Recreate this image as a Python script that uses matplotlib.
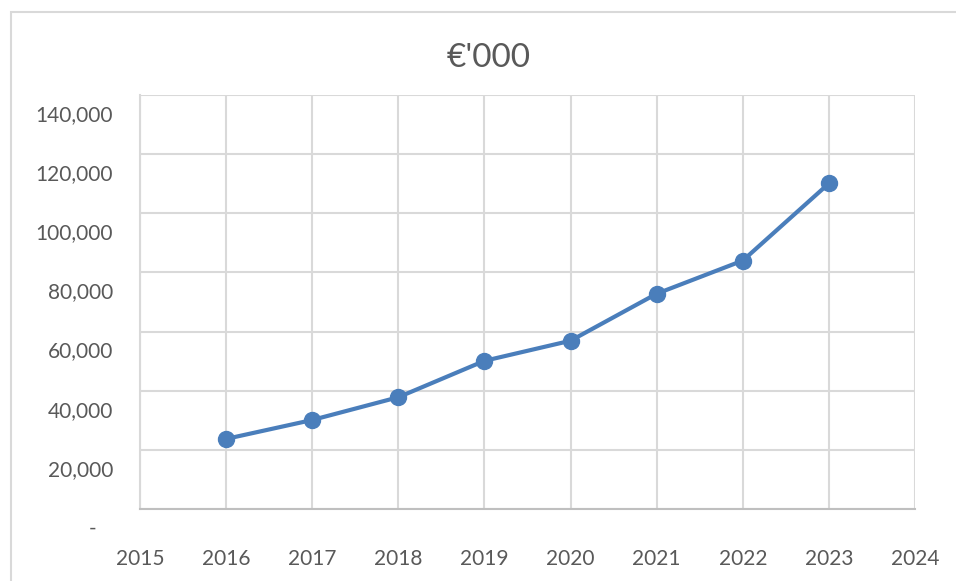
import matplotlib
matplotlib.use("Agg")
import matplotlib.pyplot as plt
import matplotlib.transforms as mtransforms
from matplotlib.patches import Rectangle

years = [2016, 2017, 2018, 2019, 2020, 2021, 2022, 2023]
values = [23700, 30100, 37800, 50100, 56900, 72800, 84000, 110100]
x_ticks = list(range(2015, 2025))
y_ticks = [0, 20000, 40000, 60000, 80000, 100000, 120000, 140000]
y_labels = ["-   ", "20,000", "40,000", "60,000", "80,000", "100,000", "120,000", "140,000"]
title = "€'000"

plt.rcParams['font.family'] = ['Lato', 'DejaVu Sans']
text_color = "#595959"

fig = plt.figure(figsize=(9.56, 5.81), dpi=100)
ax = fig.add_axes([140/956, 1-509/581, (915-140)/956, (509-95)/581])

# chart border
fig.patches.append(Rectangle((11/956, -0.1), 1.2, 1 - 12/581 + 0.1, transform=fig.transFigure,
                             fill=False, edgecolor="#d9d9d9", linewidth=1.5))

ax.plot(years, values, color="#4a7ebb", linewidth=3, marker="o", markersize=11.5,
        markeredgecolor="#4a7ebb", markerfacecolor="#4a7ebb", zorder=3)

ax.set_xlim(2015, 2024)
ax.set_ylim(0, 140000)
ax.set_xticks(x_ticks)
ax.set_xticklabels([str(x) for x in x_ticks])
ax.set_yticks(y_ticks)
ax.set_yticklabels(y_labels)

ax.grid(True, color="#d9d9d9", linewidth=1.5)
ax.set_axisbelow(True)
for s in ["top", "right"]:
    ax.spines[s].set_visible(False)
ax.spines["left"].set_color("#d9d9d9")
ax.spines["left"].set_linewidth(1.5)
ax.spines["bottom"].set_color("#bfbfbf")
ax.spines["bottom"].set_linewidth(1.5)

ax.tick_params(axis="both", length=0, labelsize=15, labelcolor=text_color)
ax.tick_params(axis="y", pad=19.5)
ax.tick_params(axis="x", pad=29)

offset = mtransforms.ScaledTranslation(0, -18/100, fig.dpi_scale_trans)
for lab in ax.get_yticklabels():
    lab.set_transform(lab.get_transform() + offset)

fig.text(489/956, 1 - 58/581, title, ha="center", va="center", fontsize=24, color=text_color)

fig.savefig("out.png", dpi=100)
